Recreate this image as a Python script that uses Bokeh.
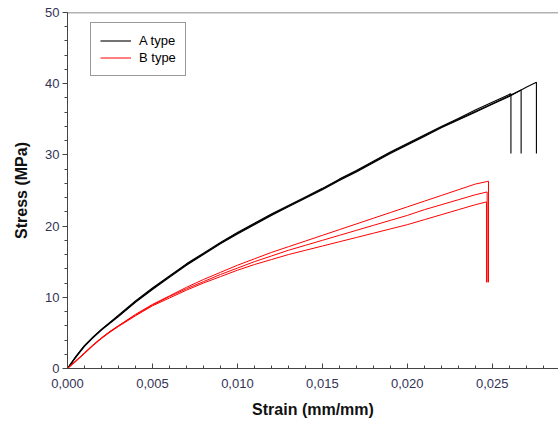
from bokeh.plotting import figure
from bokeh.models import (Range1d, SingleIntervalTicker, CustomJSTickFormatter, Span,
                          Legend, LegendItem)
from bokeh.embed import file_html
from bokeh.resources import INLINE

# ---- data (strain in mm/mm, stress in MPa) ----
A_strain = [0, 0.0005, 0.001, 0.0015, 0.002, 0.003, 0.004, 0.005, 0.006, 0.007, 0.008,
            0.009, 0.010, 0.011, 0.012, 0.013, 0.014, 0.015, 0.016, 0.017, 0.018, 0.019,
            0.020, 0.021, 0.022, 0.023, 0.024, 0.025, 0.026]
A1_stress = [0, 1.7, 3.2, 4.4, 5.5, 7.5, 9.5, 11.3, 13.0, 14.7, 16.2, 17.7, 19.1, 20.4,
             21.7, 22.9, 24.1, 25.3, 26.6, 27.8, 29.1, 30.4, 31.6, 32.8, 34.0, 35.1,
             36.3, 37.4, 38.5]
A2_stress = [0, 1.7, 3.2, 4.4, 5.5, 7.4, 9.4, 11.2, 12.9, 14.6, 16.1, 17.6, 19.0, 20.3,
             21.6, 22.8, 24.0, 25.2, 26.5, 27.7, 29.0, 30.3, 31.5, 32.7, 33.9, 35.0,
             36.1, 37.2, 38.3]
A3_stress = [0, 1.6, 3.1, 4.3, 5.4, 7.3, 9.3, 11.1, 12.8, 14.5, 16.0, 17.5, 18.9, 20.2,
             21.5, 22.7, 23.9, 25.1, 26.4, 27.6, 28.9, 30.2, 31.4, 32.6, 33.8, 34.9,
             36.0, 37.1, 38.2]
A1_end_strain, A1_end_stress = [0.0261, 0.0261], [38.6, 30.2]
A2_end_strain, A2_end_stress = [0.0267, 0.0267], [39.1, 30.2]
A3_end_strain, A3_end_stress = [0.027, 0.0276, 0.0276], [39.5, 40.2, 30.2]

B_strain = [0, 0.0005, 0.001, 0.0015, 0.002, 0.0025, 0.003, 0.004, 0.005, 0.006, 0.007,
            0.008, 0.009, 0.010, 0.011, 0.012, 0.013, 0.014, 0.015, 0.016, 0.017, 0.018,
            0.019, 0.020, 0.021, 0.022, 0.023, 0.024]
B1_stress = [0, 1.1, 2.2, 3.3, 4.3, 5.2, 6.0, 7.6, 9.0, 10.2, 11.4, 12.5, 13.5, 14.5,
             15.4, 16.3, 17.1, 17.9, 18.7, 19.5, 20.3, 21.1, 21.9, 22.7, 23.5, 24.3, 25.1, 25.9]
B2_stress = [0, 1.1, 2.2, 3.3, 4.3, 5.2, 6.0, 7.5, 8.9, 10.1, 11.2, 12.2, 13.2, 14.1,
             15.0, 15.8, 16.6, 17.3, 18.0, 18.7, 19.4, 20.1, 20.8, 21.5, 22.3, 23.0, 23.7, 24.4]
B3_stress = [0, 1.0, 2.1, 3.2, 4.2, 5.1, 5.9, 7.4, 8.8, 9.9, 11.0, 12.0, 12.9, 13.8,
             14.6, 15.3, 16.0, 16.6, 17.2, 17.8, 18.4, 19.0, 19.6, 20.2, 20.9, 21.6, 22.3, 23.0]
B1_end_strain, B1_end_stress = [0.02478, 0.02478], [26.3, 12.1]
B2_end_strain, B2_end_stress = [0.02470, 0.02470], [24.8, 12.1]
B3_end_strain, B3_end_stress = [0.02466, 0.02466], [23.4, 12.1]

legend_labels = ["A type", "B type"]
x_title = "Strain (mm/mm)"
y_title = "Stress (MPa)"

FONT = "Liberation Sans"

p = figure(width=558, height=426, output_backend="svg", toolbar_location=None,
           x_range=Range1d(0, 0.0289), y_range=Range1d(0, 50),
           min_border_left=67, min_border_right=0, min_border_top=12, min_border_bottom=58)
p.outline_line_color = None
p.grid.visible = False
p.background_fill_color = "white"
p.border_fill_color = "white"

rA = []
for xs, ys, xe, ye in [(A_strain, A1_stress, A1_end_strain, A1_end_stress),
                       (A_strain, A2_stress, A2_end_strain, A2_end_stress),
                       (A_strain, A3_stress, A3_end_strain, A3_end_stress)]:
    rA.append(p.line(list(xs) + list(xe), list(ys) + list(ye), line_color="black", line_width=1.1))
rB = []
for xs, ys, xe, ye in [(B_strain, B1_stress, B1_end_strain, B1_end_stress),
                       (B_strain, B2_stress, B2_end_strain, B2_end_stress),
                       (B_strain, B3_stress, B3_end_strain, B3_end_stress)]:
    rB.append(p.line(list(xs) + list(xe), list(ys) + list(ye), line_color="#ff0000", line_width=1.0))

p.add_layout(Span(location=50, dimension="width", line_color="#666666", line_width=1.5))

xa = p.xaxis[0]
xa.ticker = SingleIntervalTicker(interval=0.005, num_minor_ticks=5)
xa.formatter = CustomJSTickFormatter(code="return tick.toFixed(3).replace('.', ',');")
xa.major_tick_in, xa.major_tick_out = 5, 0
xa.minor_tick_in, xa.minor_tick_out = 3, 0
xa.major_label_standoff = 10
xa.axis_label = x_title
xa.axis_label_standoff = 10

ya = p.yaxis[0]
ya.ticker = SingleIntervalTicker(interval=10, num_minor_ticks=5)
ya.major_tick_in, ya.major_tick_out = 0, 5
ya.minor_tick_in, ya.minor_tick_out = 0, 3
ya.major_label_standoff = 3
ya.axis_label = y_title
ya.axis_label_standoff = 12

for ax in (xa, ya):
    ax.axis_line_color = "#444444"
    ax.major_tick_line_color = "#444444"
    ax.minor_tick_line_color = "#444444"
    ax.major_label_text_font = FONT
    ax.major_label_text_font_size = "13px"
    ax.major_label_text_color = "#333355"
    ax.axis_label_text_font = FONT
    ax.axis_label_text_font_size = "16px"
    ax.axis_label_text_font_style = "bold"
    ax.axis_label_text_color = "#111111"

legend = Legend(items=[LegendItem(label=legend_labels[0], renderers=[rA[0]]),
                       LegendItem(label=legend_labels[1], renderers=[rB[0]])],
                location=(23, 292))
legend.label_text_font = FONT
legend.label_text_font_size = "13px"
legend.label_text_color = "black"
legend.border_line_color = "#333333"
legend.border_line_width = 1
legend.padding = 9
legend.spacing = 0
legend.margin = 0
legend.glyph_width = 31
legend.glyph_height = 17
legend.label_height = 17
legend.label_standoff = 8
legend.background_fill_alpha = 1
p.add_layout(legend)

open("out.html", "w").write(file_html(p, INLINE))
